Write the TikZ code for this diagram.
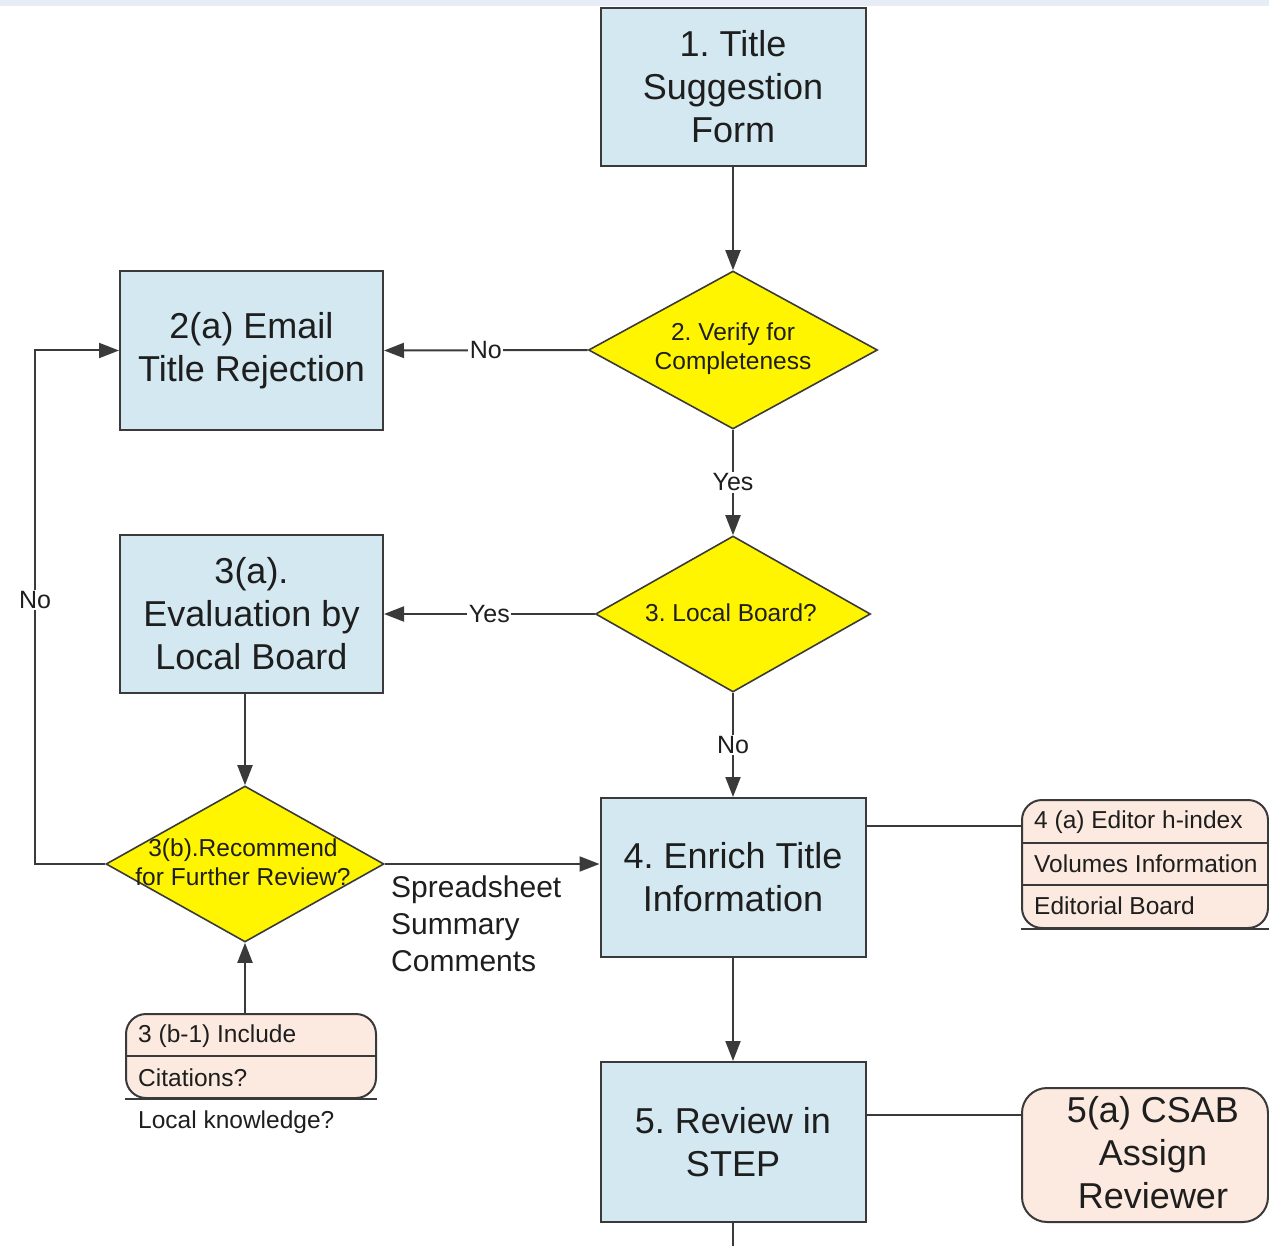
\documentclass[tikz,border=0pt]{standalone}
\usepackage{fontspec}
\setmainfont{Liberation Sans}
\usetikzlibrary{shapes.geometric,arrows.meta}
\definecolor{boxblue}{HTML}{D3E8F0}
\definecolor{dyellow}{HTML}{FFF500}
\definecolor{peach}{HTML}{FCEAE0}
\definecolor{edge}{HTML}{3A3A3A}
\definecolor{ink}{HTML}{1E1E1E}
\definecolor{topband}{HTML}{E6EDF7}
\frenchspacing
\begin{document}
\frenchspacing
\begin{tikzpicture}[x=1pt,y=-1pt,
  proc/.style={draw=edge,line width=2pt,fill=boxblue,inner sep=0pt,align=center,text=ink,font=\fontsize{36}{43}\selectfont},
  dia/.style={diamond,draw=edge,line width=1.6pt,fill=dyellow,inner sep=0pt,aspect=1.8},
  dtext/.style={align=center,text=ink,font=\fontsize{24.5}{29}\selectfont,inner sep=0pt},
  rec/.style={draw=edge,line width=2pt,fill=peach,inner sep=0pt,align=center,text=ink},
  rtext/.style={anchor=west,text=ink,font=\fontsize{24.5}{28}\selectfont,inner sep=0pt},
  lbl/.style={fill=white,inner sep=1.5pt,text=ink,font=\fontsize{25}{28}\selectfont},
  arr/.style={draw=edge,line width=2pt,-{Triangle[length=20pt,width=15pt]}},
  conn/.style={draw=edge,line width=2pt}]
\useasboundingbox (0,0) rectangle (1269,1246);
\fill[topband] (0,0) rectangle (1269,6);

% process boxes
\node[proc,minimum width=265pt,minimum height=158pt] (b1) at (733,87) {1. Title\\Suggestion\\Form};
\node[proc,minimum width=263pt,minimum height=159pt] (b2a) at (251.5,350.5) {2(a) Email\\Title Rejection};
\node[proc,minimum width=263pt,minimum height=158pt] (b3a) at (251.5,614) {3(a).\\Evaluation by\\Local Board};
\node[proc,minimum width=265pt,minimum height=159pt] (b4) at (733,877.5) {4. Enrich Title\\Information};
\node[proc,minimum width=265pt,minimum height=160pt] (b5) at (733,1142) {5. Review in\\STEP};

% decisions
\node[dia,minimum width=289pt,minimum height=158pt] (d2) at (733,350) {};
\node[dtext] (d2t) at (733,349) {2. Verify for\\Completeness};
\node[dia,minimum width=275pt,minimum height=156pt] (d3) at (733,614) {};
\node[dtext] (d3t) at (731,613) {3. Local Board?};
\node[dia,minimum width=278pt,minimum height=156pt] (d3b) at (245,864) {};
\node[dtext] (d3bt) at (243,862) {3(b).Recommend\\for Further Review?};

% records
\node[rec,rounded corners=20pt,minimum width=250pt,minimum height=84pt] (r3b1) at (251,1056) {};
\draw[conn] (r3b1.west) -- (r3b1.east);
\draw[conn] (r3b1.south west) -- (r3b1.south east);
\node[rtext] (t3b1a) at (138,1036) {3 (b-1) Include};
\node[rtext] (t3b1b) at (138,1078) {Citations?};
\node[rtext] (t3b1c) at (138,1122) {Local knowledge?};

\node[rec,rounded corners=20pt,minimum width=246pt,minimum height=128pt] (r4a) at (1145,864) {};
\draw[conn] ([yshift=21pt]r4a.west) -- ([yshift=21pt]r4a.east);
\draw[conn] ([yshift=-21pt]r4a.west) -- ([yshift=-21pt]r4a.east);
\draw[conn] (r4a.south west) -- (r4a.south east);
\node[rtext] (t4a1) at (1034,822) {4 (a) Editor h-index};
\node[rtext] (t4a2) at (1034,864) {Volumes Information};
\node[rtext] (t4a3) at (1034,906) {Editorial Board};

\node[rec,rounded corners=25pt,minimum width=246pt,minimum height=134pt] (r5a) at (1145,1155) {};
\node[align=center,inner sep=0pt,text=ink,font=\fontsize{36}{43}\selectfont] (t5a) at (1153,1153) {5(a) CSAB\\Assign\\Reviewer};

% connectors
\draw[arr] (b1.south) -- (d2.north);
\draw[arr] (d2.west) -- node[lbl] (lno1) {No} (b2a.east);
\draw[arr] (d2.south) -- node[lbl] (lyes1) {Yes} (d3.north);
\draw[arr] (d3.west) -- node[lbl] (lyes2) {Yes} (d3.west -| b3a.east);
\draw[arr] (d3.south) -- node[lbl] (lno2) {No} (b4.north);
\draw[arr] (b3a.south -| d3b.north) -- (d3b.north);
\coordinate (lc) at (35,864);
\draw[arr] (d3b.west) -- (lc) -- node[lbl,pos=0.514] (lno3) {No} (lc |- b2a.west) -- (b2a.west);
\draw[arr] (d3b.east) -- (d3b.east -| b4.west);
\node[anchor=north west,align=left,inner sep=0pt,text=ink,font=\fontsize{30}{37}\selectfont] (ss) at (391,876) {Spreadsheet\\Summary\\Comments};
\draw[arr] (r3b1.north -| d3b.south) -- (d3b.south);
\draw[conn] ([yshift=51.5pt]b4.east) -- ([yshift=51.5pt]b4.east -| r4a.west);
\draw[arr] (b4.south) -- (b5.north);
\draw[conn] ([yshift=27pt]b5.east) -- ([yshift=27pt]b5.east -| r5a.west);
\coordinate (bend) at (733,1246);
\draw[conn] (b5.south) -- (bend);
\end{tikzpicture}
\end{document}
